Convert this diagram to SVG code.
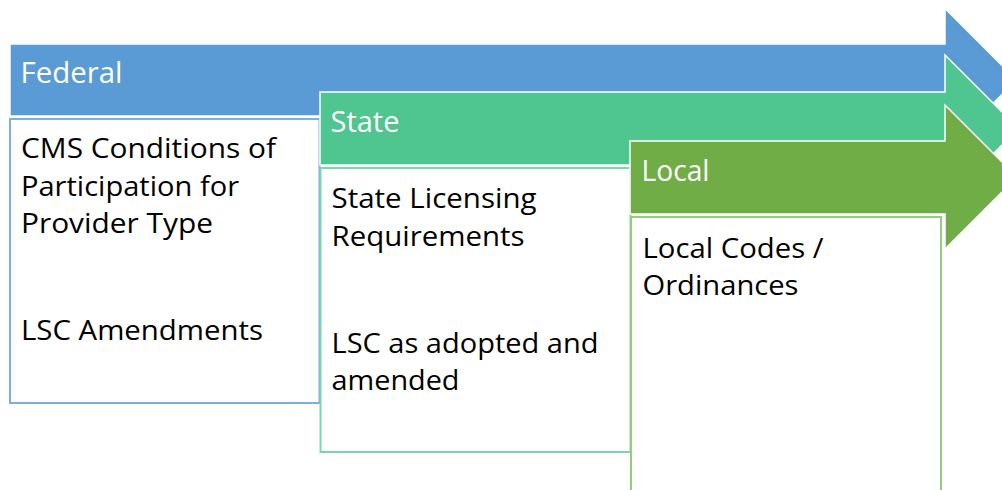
<svg xmlns="http://www.w3.org/2000/svg" width="1002" height="490" viewBox="0 0 1002 490">
  <style>
    .arrow { stroke: #ffffff; stroke-width: 1.5; }
    .box { fill: #ffffff; stroke-width: 2; }
    .hdr { font-family: "Open Sans", "Liberation Sans", sans-serif; font-size: 29px; fill: #ffffff; }
    .txt { font-family: "Open Sans", "Liberation Sans", sans-serif; font-size: 28px; fill: #000000; }
  </style>
  <rect width="1002" height="490" fill="#ffffff"/>
  <g id="federal">
    <polygon class="arrow" fill="#5B9BD5" points="10,44 945,44 945,8.5 1016.5,80 945,151.5 945,116 10,116"/>
    <text class="hdr" x="20.5" y="83" textLength="102" lengthAdjust="spacingAndGlyphs">Federal</text>
    <rect class="box" stroke="#7DAEE0" x="10" y="119" width="309.5" height="284"/>
    <text class="txt" x="21" y="158" textLength="255" lengthAdjust="spacingAndGlyphs">CMS Conditions of</text>
    <text class="txt" x="21" y="196" textLength="218" lengthAdjust="spacingAndGlyphs">Participation for</text>
    <text class="txt" x="21" y="233" textLength="192" lengthAdjust="spacingAndGlyphs">Provider Type</text>
    <text class="txt" x="21" y="340" textLength="242" lengthAdjust="spacingAndGlyphs">LSC Amendments</text>
  </g>
  <g id="state">
    <polygon class="arrow" fill="#4FC58F" points="320,92 945,92 945,55 1018.5,128.5 945,202 945,165 320,165"/>
    <text class="hdr" x="330.5" y="132" textLength="69" lengthAdjust="spacingAndGlyphs">State</text>
    <rect class="box" stroke="#7DD6AB" x="320.5" y="168" width="310" height="284"/>
    <text class="txt" x="331.5" y="208" textLength="205" lengthAdjust="spacingAndGlyphs">State Licensing</text>
    <text class="txt" x="331.5" y="246" textLength="193" lengthAdjust="spacingAndGlyphs">Requirements</text>
    <text class="txt" x="331.5" y="353" textLength="267" lengthAdjust="spacingAndGlyphs">LSC as adopted and</text>
    <text class="txt" x="331.5" y="390" textLength="128" lengthAdjust="spacingAndGlyphs">amended</text>
  </g>
  <g id="local">
    <polygon class="arrow" fill="#70AD47" points="630,141 945,141 945,105 1017,177 945,249 945,214 630,214"/>
    <text class="hdr" x="641.5" y="181" textLength="68" lengthAdjust="spacingAndGlyphs">Local</text>
    <rect class="box" stroke="#98CB7D" x="631" y="217" width="310" height="300"/>
    <text class="txt" x="642.5" y="258" textLength="181" lengthAdjust="spacingAndGlyphs">Local Codes /</text>
    <text class="txt" x="642.5" y="295" textLength="156" lengthAdjust="spacingAndGlyphs">Ordinances</text>
  </g>
  <g id="connectors"/>
</svg>
